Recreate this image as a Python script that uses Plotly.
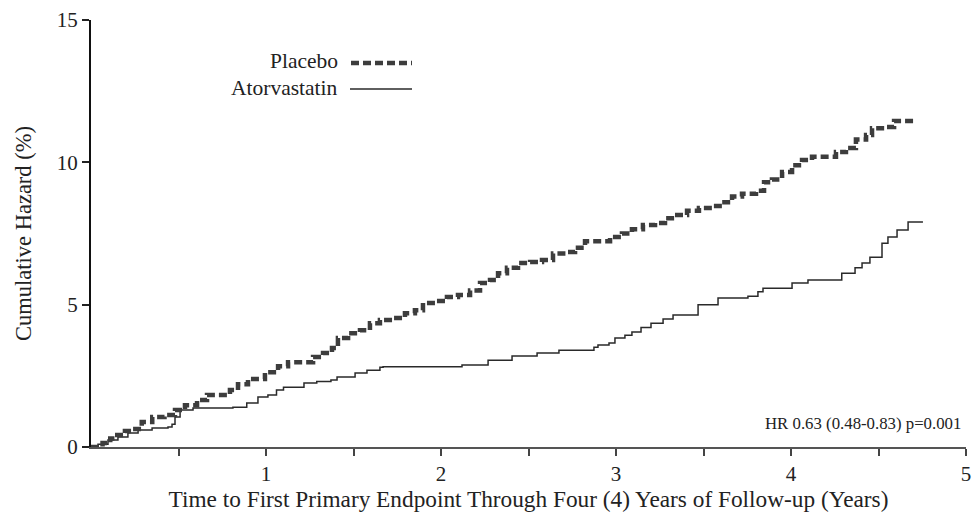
import plotly.graph_objects as go

# Placebo cumulative hazard (%) — step curve
placebo_t = [0.0, 0.066, 0.11, 0.15, 0.194, 0.24, 0.29, 0.35, 0.42, 0.48, 0.537, 0.606, 0.663, 0.737,
             0.794, 0.84, 0.897, 0.994, 1.069, 1.126, 1.211, 1.269, 1.326, 1.377, 1.411, 1.469, 1.537,
             1.594, 1.651, 1.726, 1.794, 1.851, 1.897, 1.966, 2.034, 2.097, 2.166, 2.223, 2.28, 2.326,
             2.377, 2.44, 2.509, 2.577, 2.64, 2.72, 2.766, 2.823, 2.909, 2.966, 3.034, 3.091, 3.154,
             3.223, 3.28, 3.35, 3.406, 3.474, 3.549, 3.606, 3.663, 3.72, 3.8, 3.846, 3.891, 3.949,
             4.006, 4.063, 4.12, 4.2, 4.257, 4.314, 4.371, 4.429, 4.463, 4.543, 4.589, 4.72]
placebo_h = [0.0, 0.14, 0.3, 0.42, 0.56, 0.63, 0.88, 1.05, 1.12, 1.3, 1.47, 1.65, 1.83, 1.83,
             2.0, 2.2, 2.39, 2.63, 2.84, 2.98, 2.98, 3.16, 3.3, 3.48, 3.83, 4.0, 4.1,
             4.35, 4.46, 4.53, 4.7, 4.8, 5.06, 5.13, 5.27, 5.34, 5.5, 5.76, 5.87, 6.1,
             6.3, 6.46, 6.5, 6.57, 6.8, 6.85, 7.0, 7.23, 7.23, 7.38, 7.5, 7.65, 7.8,
             7.87, 8.04, 8.15, 8.3, 8.4, 8.47, 8.6, 8.8, 8.9, 9.0, 9.3, 9.4, 9.66,
             9.9, 10.08, 10.2, 10.2, 10.36, 10.5, 10.8, 10.96, 11.2, 11.24, 11.45, 11.45]

# Atorvastatin cumulative hazard (%) — step curve
atorva_t = [0.0, 0.04, 0.097, 0.154, 0.211, 0.269, 0.349, 0.44, 0.463, 0.48, 0.509, 0.583, 0.811,
            0.89, 0.954, 1.011, 1.06, 1.1, 1.217, 1.29, 1.371, 1.406, 1.509, 1.577, 1.651, 1.669,
            2.12, 2.269, 2.406, 2.549, 2.674, 2.874, 2.897, 2.96, 2.994, 3.051, 3.091, 3.143, 3.2,
            3.269, 3.326, 3.469, 3.583, 3.754, 3.811, 3.84, 4.006, 4.097, 4.29, 4.366, 4.406,
            4.451, 4.52, 4.554, 4.606, 4.669, 4.754]
atorva_h = [0.0, 0.1, 0.25, 0.35, 0.49, 0.6, 0.67, 0.7, 0.8, 1.05, 1.3, 1.37, 1.4,
            1.55, 1.76, 1.83, 2.0, 2.1, 2.25, 2.3, 2.35, 2.46, 2.6, 2.7, 2.8, 2.82,
            2.88, 3.05, 3.2, 3.3, 3.4, 3.5, 3.58, 3.65, 3.83, 3.93, 4.04, 4.2, 4.35,
            4.5, 4.64, 5.0, 5.23, 5.3, 5.45, 5.58, 5.76, 5.87, 6.1, 6.3, 6.46,
            6.67, 7.16, 7.38, 7.62, 7.9, 7.9]

x_tick_vals = [0.5, 1, 1.5, 2, 2.5, 3, 3.5, 4, 4.5, 5]
x_tick_text = ["", "1", "", "2", "", "3", "", "4", "", "5"]
y_tick_vals = [0, 5, 10, 15]

FONT = "Liberation Serif, Times New Roman, serif"
PLACEBO_COLOR = "#3d3d3d"
ATORVA_COLOR = "#2a2a2a"

fig = go.Figure()
fig.add_trace(go.Scatter(x=atorva_t, y=atorva_h, mode="lines", line_shape="hv",
                         line=dict(color=ATORVA_COLOR, width=1.5), name="Atorvastatin",
                         showlegend=False))
fig.add_trace(go.Scatter(x=placebo_t, y=placebo_h, mode="lines", line_shape="hv",
                         line=dict(color=PLACEBO_COLOR, width=4.5, dash="8px,4px"), name="Placebo",
                         showlegend=False))

fig.update_layout(
    width=977, height=512,
    margin=dict(l=91, r=11, t=20, b=65, autoexpand=False),
    plot_bgcolor="white", paper_bgcolor="white",
    font=dict(family=FONT, size=22, color="#222"),
    xaxis=dict(range=[0, 5], tickvals=x_tick_vals, ticktext=x_tick_text,
               ticks="outside", ticklen=7, tickwidth=1.5, tickcolor="#444",
               showline=True, linecolor="#555", linewidth=2, showgrid=False, zeroline=False,
               tickfont=dict(size=21), automargin=False,
               title=dict(text="Time to First Primary Endpoint Through Four (4) Years of Follow-up (Years)",
                          font=dict(size=23.3), standoff=1)),
    yaxis=dict(range=[0, 15], tickvals=y_tick_vals, ticks="outside", ticklen=7, tickwidth=1.5,
               tickcolor="#222", showline=True, linecolor="#111", linewidth=2,
               showgrid=False, zeroline=False, tickfont=dict(size=21), automargin=False,
               title=dict(text="Cumulative Hazard (%)", font=dict(size=22.5), standoff=19)),
)

def px2paper(px, py):
    return (px - 91) / 875, (447 - py) / 427

# Legend (text then line sample)
lx, ly = px2paper(340, 61)
fig.add_annotation(x=lx, y=ly, xref="paper", yref="paper", text="Placebo", showarrow=False,
                   xanchor="right", yanchor="middle", font=dict(size=21.5))
lx, ly = px2paper(340, 88)
fig.add_annotation(x=lx, y=ly, xref="paper", yref="paper", text="Atorvastatin", showarrow=False,
                   xanchor="right", yanchor="middle", font=dict(size=21.5))
x0, y0 = px2paper(351, 63)
x1, _ = px2paper(412, 63)
fig.add_shape(type="line", xref="paper", yref="paper", x0=x0, x1=x1, y0=y0, y1=y0,
              line=dict(color=PLACEBO_COLOR, width=4.5, dash="8px,4px"))
x0, y0 = px2paper(350, 89)
x1, _ = px2paper(412, 89)
fig.add_shape(type="line", xref="paper", yref="paper", x0=x0, x1=x1, y0=y0, y1=y0,
              line=dict(color=ATORVA_COLOR, width=1.5))

hx, hy = px2paper(963, 423)
fig.add_annotation(x=hx, y=hy, xref="paper", yref="paper", text="HR 0.63 (0.48-0.83) p=0.001",
                   showarrow=False, xanchor="right", yanchor="middle", font=dict(size=16.8))

fig.write_html("out.html", config={"displayModeBar": False},
               post_script="document.body.style.margin='0';document.body.style.overflow='hidden';")
